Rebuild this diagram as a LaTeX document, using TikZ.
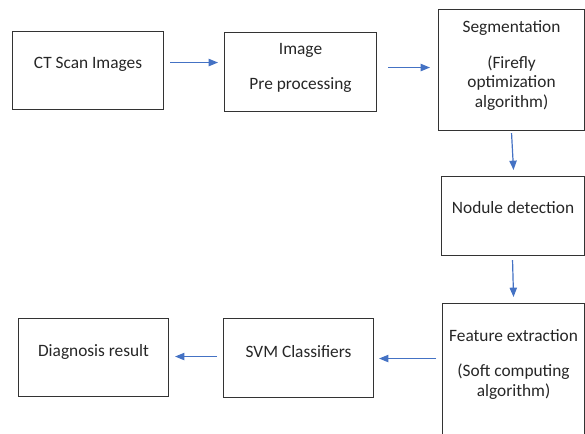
\documentclass[tikz,border=0pt]{standalone}
\usepackage{fontspec}
\setmainfont{Carlito}
\usepackage{tikz}
\usetikzlibrary{shapes,arrows.meta,calc}

\definecolor{flowblue}{HTML}{4472C4}

\tikzset{
	block/.style={draw=black!80, line width=0.8pt, inner sep=0pt, anchor=north west,
		text=black!85, font=\fontsize{13}{14.6}\selectfont},
	flow/.style={draw=flowblue, line width=0.9pt, -{Triangle[length=7pt,width=5.5pt]}}
}

\begin{document}
\begin{tikzpicture}[x=0.75pt, y=0.75pt]
		\useasboundingbox (0,0) rectangle (585,-434);

		\node[block, minimum width=113.25pt, text height=27.75pt, text depth=30.75pt] (ctscan) at (12,-31)
			{CT Scan Images};
		\node[block, minimum width=114pt, text height=16.5pt, text depth=42.75pt] (preproc) at (224,-32)
			{\begin{tabular}[t]{@{}c@{}}Image\\[11.7pt] Pre processing\end{tabular}};
		\node[block, minimum width=109.5pt, text height=17.25pt, text depth=73.5pt] (segment) at (438,-9)
			{\begin{tabular}[t]{@{}c@{}}Segmentation\\[12.4pt] (Firefly\\ optimization\\ algorithm)\end{tabular}};
		\node[block, minimum width=107.25pt, text height=27.75pt, text depth=31.5pt] (nodule) at (441,-176)
			{Nodule detection};
		\node[block, minimum width=106.5pt, text height=28.5pt, text depth=78pt] (feature) at (442,-303)
			{\begin{tabular}[t]{@{}c@{}}Feature extraction\\[11.7pt] (Soft computing\\[0.4pt] algorithm)\end{tabular}};
		\node[block, minimum width=112.5pt, text height=29.25pt, text depth=30pt] (svm) at (223,-318)
			{SVM Classifiers};
		\node[block, minimum width=112.5pt, text height=28.5pt, text depth=30pt] (diagnosis) at (18,-318)
			{Diagnosis result};

		% arrows between the stages
		\draw[flow] ($(ctscan.east)+(6,8)$) -- ($(preproc.west)+(-6,9.5)$);
		\draw[flow] ($(preproc.east)+(11,4.5)$) -- ($(segment.west)+(-8,2.5)$);
		\draw[flow] ($(segment.south)+(0,-2)$) -- ($(nodule.north)+(0.5,6)$);
		\draw[flow] ($(nodule.south)+(-0.5,-4)$) -- ($(feature.north)+(0,6)$);
		\draw[flow] ($(feature.west)+(-6,16)$) -- ($(svm.east)+(5,-0.5)$);
		\draw[flow] ($(svm.west)+(-6,1.5)$) -- ($(diagnosis.east)+(6,1)$);

	\end{tikzpicture}
\end{document}
